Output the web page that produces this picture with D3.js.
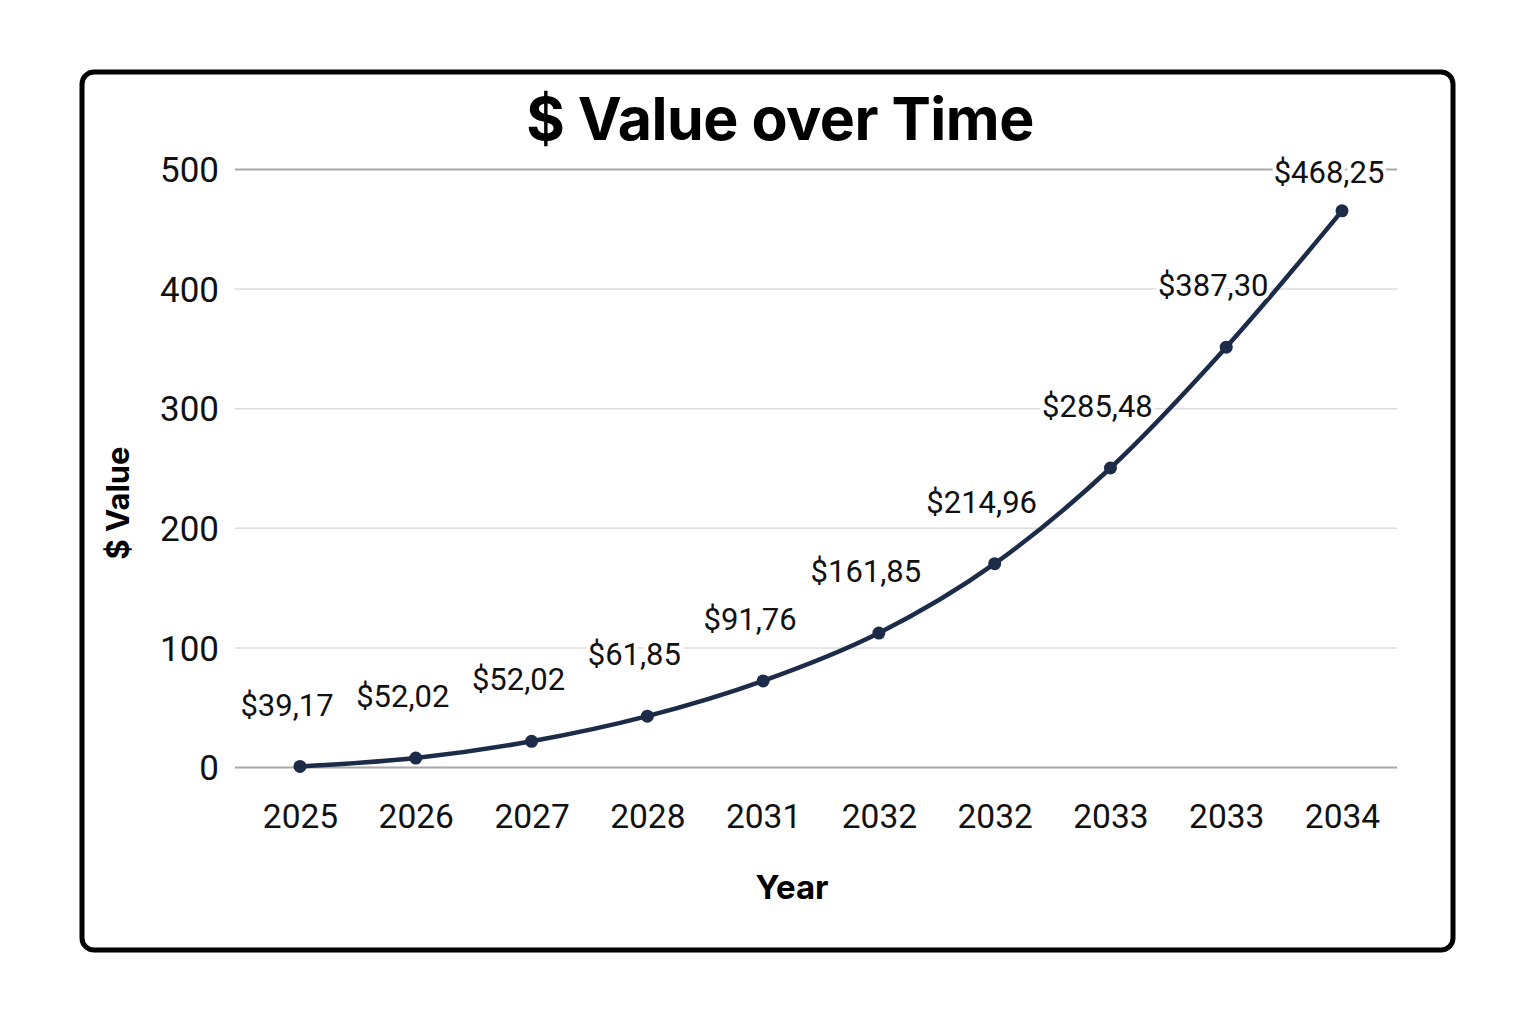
<!DOCTYPE html>
<html>
<head>
<meta charset="utf-8">
<script src="https://cdn.jsdelivr.net/npm/d3@7"></script>
<style>
  body { margin: 0; background: #fff; }
  svg { display: block; }
  .tick text { font-family: Roboto, sans-serif; fill: #111; }
</style>
</head>
<body>
<script>
/* chart data */
var years = ["2025", "2026", "2027", "2028", "2031", "2032", "2032", "2033", "2033", "2034"];
var values = [0.5, 7.5, 21.5, 42.5, 72, 112, 170, 250, 351, 465];
var valueLabels = ["$39,17", "$52,02", "$52,02", "$61,85", "$91,76", "$161,85", "$214,96", "$285,48", "$387,30", "$468,25"];
var yTicks = [0, 100, 200, 300, 400, 500];

var W = 1536, H = 1024;
var plot = {left: 235, right: 1397, top: 169, bottom: 767};
var navy = "#1b2b48";

var svg = d3.select("body").append("svg")
    .attr("width", W)
    .attr("height", H);

// frame
svg.append("rect")
    .attr("x", 82).attr("y", 72)
    .attr("width", 1371).attr("height", 878)
    .attr("rx", 12).attr("ry", 12)
    .attr("fill", "#fff")
    .attr("stroke", "#000")
    .attr("stroke-width", 5);

var data = values.map(function(v, i) {
    return {i: i, year: years[i], value: v, label: valueLabels[i]};
});

// first and last points sit inside the plot, not on its edges
var x = d3.scalePoint()
    .domain(data.map(function(d) { return d.i; }))
    .range([300, 1342]);

var y = d3.scaleLinear()
    .domain([0, 500])
    .range([plot.bottom, plot.top]);

// title
svg.append("text")
    .attr("x", 780).attr("y", 140)
    .attr("text-anchor", "middle")
    .attr("font-family", "Inter, sans-serif")
    .attr("font-weight", "bold")
    .attr("font-size", 59)
    .attr("letter-spacing", -0.5)
    .attr("fill", "#000")
    .text("$ Value over Time");

// y gridlines
svg.append("g")
    .attr("class", "grid")
    .attr("transform", "translate(" + plot.left + ",0)")
    .call(d3.axisLeft(y).tickValues(yTicks).tickSize(-(plot.right - plot.left)).tickFormat(""))
    .call(function(g) { g.select(".domain").remove(); })
    .selectAll(".tick line")
    .attr("stroke", function(d) { return (d === 0 || d === 500) ? "#a8a8a8" : "#dcdcdc"; })
    .attr("stroke-width", function(d) { return (d === 0 || d === 500) ? 2 : 1.5; });

// y axis labels
svg.append("g")
    .attr("transform", "translate(" + plot.left + ",0)")
    .call(d3.axisLeft(y).tickValues(yTicks).tickSize(0).tickPadding(16))
    .call(function(g) { g.select(".domain").remove(); })
    .selectAll("text")
    .attr("font-size", 35)
    .attr("dy", "0.36em");

// x axis labels
svg.append("g")
    .attr("transform", "translate(0," + plot.bottom + ")")
    .call(d3.axisBottom(x).tickSize(0).tickPadding(37).tickFormat(function(i) { return years[i]; }))
    .call(function(g) { g.select(".domain").remove(); })
    .selectAll("text")
    .attr("font-size", 33.5);

// axis titles
svg.append("text")
    .attr("x", 792).attr("y", 899)
    .attr("text-anchor", "middle")
    .attr("font-family", "Inter, sans-serif")
    .attr("font-weight", "bold")
    .attr("font-size", 33)
    .attr("fill", "#000")
    .text("Year");

svg.append("text")
    .attr("transform", "translate(129,503) rotate(-90)")
    .attr("text-anchor", "middle")
    .attr("font-family", "Inter, sans-serif")
    .attr("font-weight", "bold")
    .attr("font-size", 31)
    .attr("fill", "#000")
    .text("$ Value");

// line
var line = d3.line()
    .curve(d3.curveMonotoneX)
    .x(function(d) { return x(d.i); })
    .y(function(d) { return y(d.value); });

svg.append("path")
    .datum(data)
    .attr("d", line)
    .attr("fill", "none")
    .attr("stroke", navy)
    .attr("stroke-width", 4.5);

svg.selectAll(".dot")
    .data(data)
    .enter().append("circle")
    .attr("class", "dot")
    .attr("cx", function(d) { return x(d.i); })
    .attr("cy", function(d) { return y(d.value); })
    .attr("r", 6.5)
    .attr("fill", navy);

// value labels (white halo hides gridline behind)
svg.selectAll(".vlabel")
    .data(data)
    .enter().append("text")
    .attr("class", "vlabel")
    .attr("x", function(d) { return x(d.i) - 13; })
    .attr("y", function(d) { return Math.max(y(d.value) - 62, y(500) + 3); })
    .attr("dy", "0.36em")
    .attr("text-anchor", "middle")
    .attr("font-family", "Roboto, sans-serif")
    .attr("font-size", 31)
    .attr("fill", "#111")
    .attr("stroke", "#fff")
    .attr("stroke-width", 8)
    .attr("paint-order", "stroke")
    .text(function(d) { return d.label; });
</script>
</body>
</html>
